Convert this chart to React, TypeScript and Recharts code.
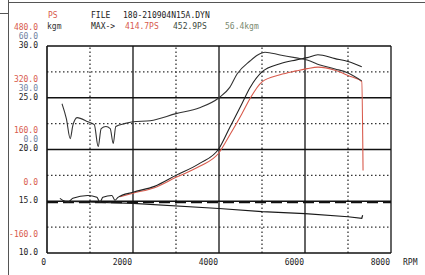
import { LineChart, Line, XAxis, YAxis, ReferenceLine } from 'recharts';

// axis ticks / labels
const rpmTicks = [0, 2000, 4000, 6000, 8000];
const levelTicks = [10, 15, 20, 25, 30];
const psLabels = ['-160.0', '0.0', '160.0', '320.0', '480.0'];
const kgmLabels = ['', '', '0.0', '30.0', '60.0'];

// grid
const solidRpm = [2000, 4000, 6000];
const dottedRpm = [1000, 3000, 5000, 7000];
const solidLevels = [15, 20, 25];
const dottedLevels = [12.5, 17.5, 22.5, 27.5];

// torque (kgm)
const torqueRpm = [350, 450, 540, 600, 700, 950, 1100, 1190, 1260, 1370, 1470, 1540, 1600, 1800, 2000, 2400, 3000, 3550, 4000, 4250, 4420, 4720, 4900, 5070, 5420, 5800, 6050, 6350, 6700, 7000, 7320];
const torqueKgm = [26.5, 17.9, 6.3, 13.8, 18.5, 16.1, 14.4, 1.7, 12.1, 13.3, 12.1, 3.5, 13.3, 15.0, 16.1, 16.7, 20.8, 24.2, 30.0, 36.0, 43.8, 51.3, 54.8, 56.4, 54.8, 53.1, 51.9, 49.0, 46.7, 44.4, 39.8];

// corrected power (PS, black)
const powerRpm = [300, 490, 600, 950, 1160, 1230, 1300, 1510, 1580, 1650, 2000, 2500, 3000, 3550, 4000, 4250, 4530, 4720, 5000, 5420, 5800, 6050, 6300, 6700, 7000, 7320];
const corrPs = [9, -3, 9, 18, 12, -3, 12, 18, 3, 12, 28, 46, 80, 117, 163, 228, 301, 351, 400, 425, 437, 444, 452.9, 441, 432, 416];

// observed power (PS, red)
const obsRpm = [1700, 2000, 2500, 3000, 3550, 4000, 4250, 4530, 4720, 5000, 5420, 5800, 6050, 6300, 6700, 7000, 7320, 7350];
const obsPs = [14, 25, 42, 74, 108, 150, 205, 270, 317, 369, 391, 403, 410, 414.7, 405, 389, 370, 95];

// lower trace (left black scale)
const lowRpm = [350, 2000, 4000, 5000, 6000, 7000, 7320, 7340];
const lowLevel = [15.0, 14.8, 14.3, 14.0, 13.8, 13.5, 13.35, 13.65];

// dashed reference trace
const refRpm = [0, 8000];
const refLevel = [14.9, 14.9];

const torqueData = torqueRpm.map((rpm, i) => ({ rpm, kgm: torqueKgm[i] }));
const corrData = powerRpm.map((rpm, i) => ({ rpm, ps: corrPs[i] }));
const obsData = obsRpm.map((rpm, i) => ({ rpm, ps: obsPs[i] }));
const lowData = lowRpm.map((rpm, i) => ({ rpm, v: lowLevel[i] }));
const refData = refRpm.map((rpm, i) => ({ rpm, v: refLevel[i] }));

const mono = '"DejaVu Sans Mono", monospace';
const red = '#d85a4c';
const labelRight = 38;

const YTick = (props: any) => {
  const { y, payload } = props;
  const i = levelTicks.indexOf(payload.value);
  return (
    <g fontFamily={mono} fontSize={8} textAnchor="end">
      <text x={labelRight} y={y - 19} dy="0.35em" fill={red}>{psLabels[i]}</text>
      {kgmLabels[i] && <text x={labelRight} y={y - 10} dy="0.35em" fill="#6f7f9f">{kgmLabels[i]}</text>}
      <text x={labelRight} y={y - 1} dy="0.35em" fill="#222">{payload.value.toFixed(1)}</text>
    </g>
  );
};

const XTick = (props: any) => {
  const { x, y, payload } = props;
  return (
    <g fontFamily={mono} fontSize={8} fill="#222">
      <text x={x - 1} y={y} dy={4} textAnchor="end">{payload.value}</text>
      {payload.value === 8000 && <text x={x + 12} y={y} dy={4} textAnchor="start">RPM</text>}
    </g>
  );
};

const txt = (left: number, top: number, color: string) => ({
  position: 'absolute' as const, left, top, color, fontFamily: mono, fontSize: 8, lineHeight: '8px', whiteSpace: 'pre' as const,
});

export default function App() {
  return (
    <div style={{ position: 'fixed', left: 0, top: 0, width: 425, height: 275, background: '#fff' }}>
      <div style={{ position: 'absolute', left: 8, top: 0, width: 1, height: 275, background: '#555' }} />
      <div style={{ position: 'absolute', left: 8, top: 2, width: 417, height: 1, background: '#555' }} />
      <div style={{ position: 'absolute', left: 0, top: 13, width: 8, height: 1, background: '#555' }} />
      <div style={txt(48, 12, red)}>PS</div>
      <div style={txt(47, 23, '#333')}>kgm</div>
      <div style={txt(91, 12, '#222')}>FILE</div>
      <div style={txt(123, 12, '#222')}>180-210904N15A.DYN</div>
      <div style={txt(91, 23, '#222')}>MAX-&gt;</div>
      <div style={txt(125, 23, red)}>414.7PS</div>
      <div style={txt(173, 23, '#3d4a3d')}>452.9PS</div>
      <div style={txt(225, 23, '#7a8a70')}>56.4kgm</div>
      <LineChart width={425} height={275} margin={{ top: 46, right: 34, bottom: 0, left: 0 }}>
        <XAxis type="number" dataKey="rpm" domain={[0, 8000]} ticks={rpmTicks} height={22}
          axisLine={false} tickLine={false} tick={<XTick />} allowDataOverflow />
        <YAxis yAxisId="v" type="number" domain={[10, 30]} ticks={levelTicks} width={47}
          axisLine={false} tickLine={false} tick={<YTick />} allowDataOverflow />
        <YAxis yAxisId="ps" type="number" domain={[-160, 480]} hide allowDataOverflow />
        <YAxis yAxisId="kgm" type="number" domain={[-60, 60]} hide allowDataOverflow />

        {dottedRpm.map(r => <ReferenceLine key={'dx' + r} yAxisId="v" x={r} stroke="#333" strokeWidth={1.3} strokeDasharray="1.5 2.5" />)}
        {dottedLevels.map(l => <ReferenceLine key={'dy' + l} yAxisId="v" y={l} stroke="#333" strokeWidth={1.3} strokeDasharray="1.5 2.5" />)}
        {solidRpm.map(r => <ReferenceLine key={'sx' + r} yAxisId="v" x={r} stroke="#111" strokeWidth={1.3} />)}
        {solidLevels.map(l => <ReferenceLine key={'sy' + l} yAxisId="v" y={l} stroke="#111" strokeWidth={1.3} />)}
        <ReferenceLine yAxisId="v" x={0} stroke="#111" strokeWidth={1.6} />
        <ReferenceLine yAxisId="v" x={8000} stroke="#111" strokeWidth={1.3} />
        <ReferenceLine yAxisId="v" y={30} stroke="#111" strokeWidth={1.3} />
        <ReferenceLine yAxisId="v" y={10} stroke="#111" strokeWidth={1.3} />

        <Line yAxisId="v" data={refData} dataKey="v" stroke="#111" strokeWidth={2} strokeDasharray="11 5" dot={false} isAnimationActive={false} />
        <Line yAxisId="v" data={lowData} dataKey="v" stroke="#1a1a1a" strokeWidth={1.2} dot={false} type="linear" isAnimationActive={false} />
        <Line yAxisId="ps" data={obsData} dataKey="ps" stroke={red} strokeWidth={1.1} dot={false} type="monotone" isAnimationActive={false} />
        <Line yAxisId="ps" data={corrData} dataKey="ps" stroke="#222" strokeWidth={1.1} dot={false} type="monotone" isAnimationActive={false} />
        <Line yAxisId="kgm" data={torqueData} dataKey="kgm" stroke="#333" strokeWidth={1.1} dot={false} type="monotone" isAnimationActive={false} />
      </LineChart>
    </div>
  );
}
